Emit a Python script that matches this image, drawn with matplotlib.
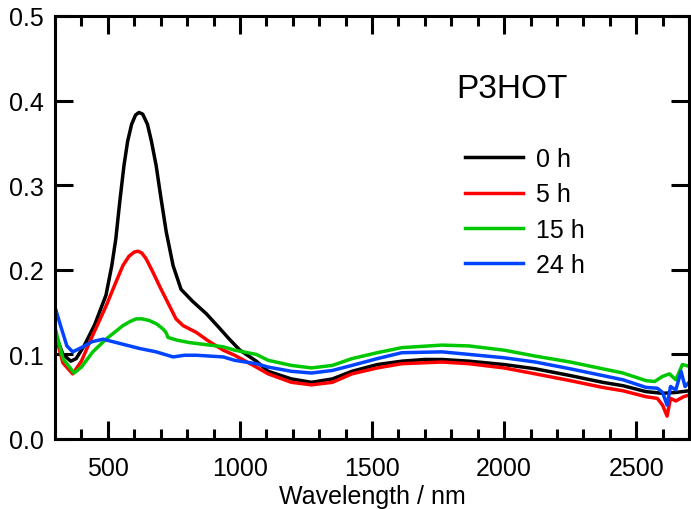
import matplotlib
matplotlib.use('Agg')
import matplotlib.pyplot as plt
from matplotlib.ticker import MultipleLocator, FormatStrFormatter

plt.rcParams['font.family'] = ['Liberation Sans', 'DejaVu Sans']

# absorbance spectra, one (wavelength, value) list per time
wl_0h = [300, 330, 360, 380, 410, 450, 493, 515, 530, 545, 561, 575, 590, 605, 618, 632,
         650, 665, 683, 700, 721, 747, 777, 820, 873, 920, 960, 1000, 1062, 1107, 1195,
         1271, 1350, 1424, 1520, 1613, 1700, 1765, 1867, 2000, 2118, 2250, 2373, 2450,
         2537, 2600, 2650, 2700]
abs_0h = [0.125, 0.100, 0.092, 0.095, 0.110, 0.135, 0.170, 0.205, 0.236, 0.280, 0.323, 0.352,
          0.372, 0.383, 0.386, 0.384, 0.372, 0.352, 0.323, 0.287, 0.245, 0.205, 0.177, 0.163,
          0.148, 0.132, 0.118, 0.105, 0.092, 0.080, 0.071, 0.067, 0.071, 0.080, 0.088, 0.092,
          0.094, 0.094, 0.092, 0.088, 0.083, 0.075, 0.067, 0.063, 0.056, 0.054, 0.055, 0.057]

wl_5h = [300, 330, 367, 400, 436, 493, 530, 557, 580, 600, 614, 628, 645, 671, 700, 721,
         758, 785, 835, 880, 937, 980, 1062, 1107, 1195, 1271, 1350, 1424, 1520, 1613, 1765,
         1867, 2000, 2118, 2250, 2373, 2450, 2537, 2580, 2600, 2617, 2630, 2650, 2680, 2700]
abs_5h = [0.125, 0.090, 0.077, 0.092, 0.118, 0.157, 0.185, 0.205, 0.216, 0.221, 0.222, 0.220,
          0.213, 0.197, 0.178, 0.165, 0.142, 0.134, 0.126, 0.116, 0.105, 0.099, 0.085, 0.077,
          0.067, 0.064, 0.067, 0.077, 0.084, 0.089, 0.091, 0.089, 0.084, 0.077, 0.069, 0.061,
          0.057, 0.050, 0.048, 0.040, 0.027, 0.048, 0.045, 0.050, 0.052]

wl_15h = [300, 330, 372, 400, 443, 493, 557, 585, 607, 630, 657, 685, 709, 720, 728, 760,
          808, 937, 980, 1062, 1107, 1195, 1271, 1350, 1424, 1520, 1613, 1765, 1867, 2000,
          2118, 2250, 2373, 2450, 2537, 2570, 2600, 2626, 2650, 2675, 2700]
abs_15h = [0.132, 0.095, 0.078, 0.085, 0.103, 0.118, 0.134, 0.139, 0.142, 0.142, 0.140, 0.136,
           0.130, 0.126, 0.120, 0.117, 0.114, 0.109, 0.105, 0.100, 0.093, 0.087, 0.084, 0.087,
           0.095, 0.102, 0.108, 0.111, 0.110, 0.105, 0.098, 0.091, 0.083, 0.078, 0.069, 0.068,
           0.074, 0.077, 0.070, 0.088, 0.086]

wl_24h = [300, 320, 345, 367, 400, 440, 482, 557, 620, 683, 747, 790, 835, 937, 980, 1062,
          1107, 1195, 1271, 1350, 1424, 1520, 1613, 1765, 1867, 2000, 2118, 2250, 2373, 2450,
          2537, 2580, 2600, 2617, 2630, 2650, 2670, 2685, 2700]
abs_24h = [0.156, 0.135, 0.110, 0.103, 0.108, 0.115, 0.118, 0.112, 0.107, 0.103, 0.097, 0.099,
           0.099, 0.097, 0.093, 0.089, 0.085, 0.080, 0.078, 0.081, 0.087, 0.095, 0.102, 0.103,
           0.100, 0.096, 0.091, 0.083, 0.075, 0.070, 0.061, 0.060, 0.055, 0.040, 0.062, 0.058,
           0.080, 0.062, 0.067]

labels = ['0 h', '5 h', '15 h', '24 h']
colors = ['#000000', '#ff0000', '#00c800', '#0044ff']

fig = plt.figure(figsize=(6.91, 5.10), dpi=100)
ax = fig.add_axes([55 / 691, 70 / 510, 634 / 691, 423 / 510])

series = [(wl_0h, abs_0h), (wl_5h, abs_5h), (wl_15h, abs_15h), (wl_24h, abs_24h)]
for (x, y), lab, c in zip(series, labels, colors):
    ax.plot(x, y, color=c, lw=2.5, label=lab, solid_joinstyle='round')

ax.set_xlim(300, 2700)
ax.set_ylim(0, 0.5)
ax.xaxis.set_major_locator(MultipleLocator(500))
ax.xaxis.set_minor_locator(MultipleLocator(100))
ax.yaxis.set_major_locator(MultipleLocator(0.1))
ax.yaxis.set_major_formatter(FormatStrFormatter('%.1f'))

for s in ax.spines.values():
    s.set_linewidth(2.2)
ax.tick_params(which='both', direction='in', top=True, right=True, width=2.2, labelsize=18)
ax.tick_params(which='major', length=13)
ax.tick_params(which='minor', length=7)
ax.tick_params(axis='x', pad=12)
ax.tick_params(axis='y', pad=8)

# the reference crops this label at the bottom edge; keep it just inside
ax.set_xlabel('Wavelength / nm', fontsize=18, labelpad=3)

ax.text(456 / 691, 1 - 98 / 510, 'P3HOT', transform=fig.transFigure, fontsize=24)

ax.legend(loc='center left', bbox_to_anchor=(465 / 691, 1 - 213 / 510),
          bbox_transform=fig.transFigure, frameon=False, fontsize=18,
          handlelength=2.3, handletextpad=0.55, labelspacing=0.45,
          borderpad=0, borderaxespad=0)

fig.savefig('out.png', dpi=100)
